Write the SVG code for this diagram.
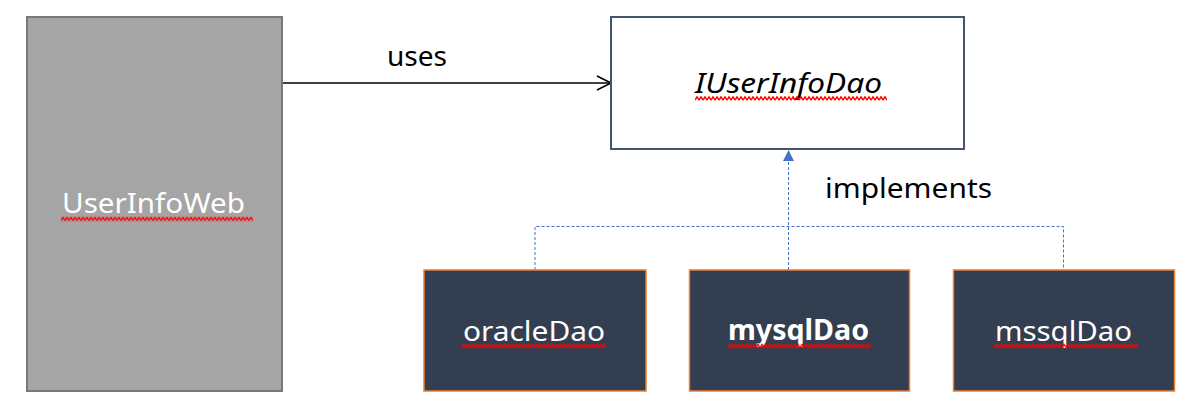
<svg xmlns="http://www.w3.org/2000/svg" width="1198" height="409" viewBox="0 0 1198 409">
<style>
text{font-family:"Noto Sans","Open Sans","Liberation Sans",sans-serif;font-size:28px}
.lbl{fill:#000}
.wt{fill:#ffffff;text-anchor:start}
.dao{fill:#333f50;stroke:#ed7d31;stroke-width:1.5}
.dash{fill:none;stroke:#4472c4;stroke-width:1;stroke-dasharray:3 2}
</style>
<defs>
<pattern id="sq" width="4" height="5" patternUnits="userSpaceOnUse">
<path d="M0,4.2 L2,0.8 L4,4.2" fill="none" stroke="#ff0000" stroke-width="1.4"/>
</pattern>
<marker id="open" markerUnits="userSpaceOnUse" markerWidth="18" markerHeight="18" refX="15" refY="8" orient="auto">
<path d="M1,1 L15,8 L1,15" fill="none" stroke="#000" stroke-width="1.6"/>
</marker>
<marker id="tri" markerUnits="userSpaceOnUse" markerWidth="14" markerHeight="14" refX="11" refY="5.5" orient="auto">
<path d="M0,0 L11,5.5 L0,11 Z" fill="#4472c4"/>
</marker>
</defs>

<g id="connectors">
<line x1="282" y1="83" x2="611" y2="83" stroke="#000" stroke-width="1.6" marker-end="url(#open)"/>
<path class="dash" d="M535,270 V226.5 H1063.5 V270"/>
<line class="dash" x1="788.5" y1="270" x2="788.5" y2="150" marker-end="url(#tri)"/>
<text class="lbl" x="387" y="66" textLength="60" lengthAdjust="spacingAndGlyphs">uses</text>
<text class="lbl" x="825" y="198" textLength="167" lengthAdjust="spacingAndGlyphs">implements</text>
</g>

<g id="UserInfoWeb">
<rect x="27" y="17" width="255" height="374" fill="#a5a5a5" stroke="#787878" stroke-width="2"/>
<text class="wt" x="62" y="213" textLength="183" lengthAdjust="spacingAndGlyphs">UserInfoWeb</text>
<rect transform="translate(61,216.5)" width="192" height="5" fill="url(#sq)"/>
</g>

<g id="IUserInfoDao">
<rect x="611" y="17" width="353" height="132" fill="#ffffff" stroke="#44546a" stroke-width="2"/>
<text x="695" y="93" font-style="italic" fill="#000" textLength="187" lengthAdjust="spacingAndGlyphs">IUserInfoDao</text>
<rect transform="translate(695,96)" width="192" height="5" fill="url(#sq)"/>
</g>

<g id="oracleDao">
<rect class="dao" x="424" y="270" width="222" height="121"/>
<text class="wt" x="463" y="341" textLength="142" lengthAdjust="spacingAndGlyphs">oracleDao</text>
<rect transform="translate(462,343.5)" width="144" height="5" fill="url(#sq)"/>
</g>

<g id="mysqlDao">
<rect class="dao" x="689.5" y="270" width="220" height="121"/>
<text class="wt" x="728" y="340" font-weight="bold" textLength="141" lengthAdjust="spacingAndGlyphs">mysqlDao</text>
<rect transform="translate(728,343.5)" width="143" height="5" fill="url(#sq)"/>
</g>

<g id="mssqlDao">
<rect class="dao" x="953.5" y="270" width="221" height="121"/>
<text class="wt" x="995" y="341" textLength="137" lengthAdjust="spacingAndGlyphs">mssqlDao</text>
<rect transform="translate(994,343.5)" width="144" height="5" fill="url(#sq)"/>
</g>
</svg>
